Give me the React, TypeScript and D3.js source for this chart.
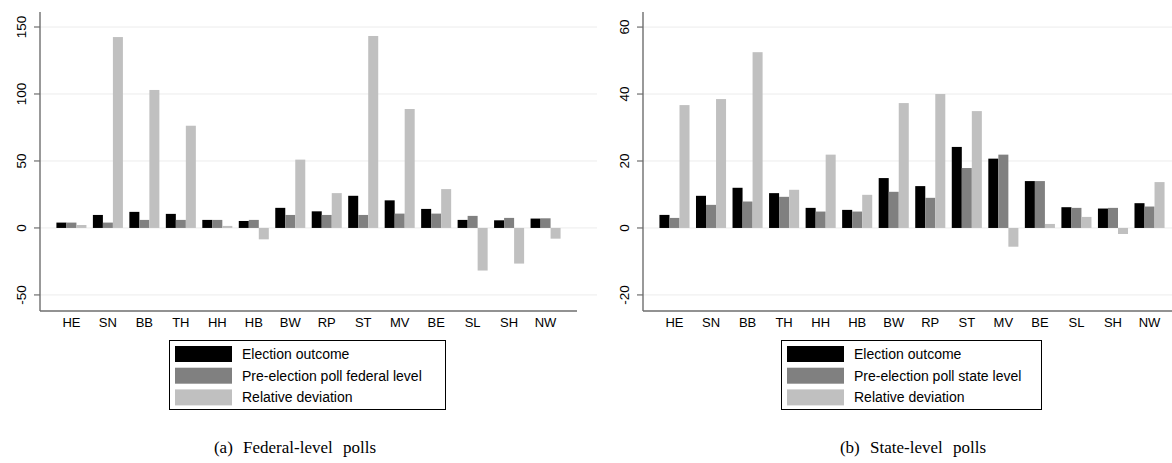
import React from "react";
import * as d3 from "d3";

const categories = ["HE", "SN", "BB", "TH", "HH", "HB", "BW", "RP", "ST", "MV", "BE", "SL", "SH", "NW"];

// Panel (a): federal-level polls
const fedOutcome = [4.0, 9.7, 12.0, 10.5, 6.0, 5.2, 15.0, 12.4, 24.0, 20.6, 14.2, 6.0, 5.7, 7.0];
const fedPoll = [4.0, 4.0, 6.0, 6.0, 6.0, 6.0, 9.7, 9.7, 9.7, 10.7, 10.7, 9.0, 7.5, 7.2];
const fedDeviation = [2.2, 142.5, 103.0, 76.3, 1.5, -8.5, 51.0, 26.0, 143.3, 88.8, 29.0, -31.8, -26.6, -8.0];
const fedTicks = [-50, 0, 50, 100, 150];

// Panel (b): state-level polls
const stateOutcome = [3.9, 9.6, 12.0, 10.4, 6.0, 5.4, 14.9, 12.5, 24.2, 20.7, 14.0, 6.2, 5.8, 7.4];
const statePoll = [3.0, 6.9, 7.9, 9.3, 4.9, 4.9, 10.8, 9.0, 17.9, 21.9, 14.0, 6.0, 6.0, 6.4];
const stateDeviation = [36.7, 38.5, 52.5, 11.4, 21.9, 9.9, 37.3, 40.0, 34.9, -5.6, 1.2, 3.3, -1.8, 13.7];
const stateTicks = [-20, 0, 20, 40, 60];

const seriesColors = ["#000000", "#808080", "#c0c0c0"];
const fedLegend = ["Election outcome", "Pre-election poll federal level", "Relative deviation"];
const stateLegend = ["Election outcome", "Pre-election poll state level", "Relative deviation"];

type PanelProps = {
  x0: number;
  x1: number;
  domain: [number, number];
  ticks: number[];
  series: number[][];
  legend: string[];
  legendX: number;
  legendW: number;
  caption: string;
  captionX: number;
};

const TOP = 12;
const BOTTOM = 311;

function Panel(p: PanelProps) {
  const y = d3.scaleLinear().domain(p.domain).range([BOTTOM, TOP]);
  const x = d3
    .scaleBand<string>()
    .domain(categories)
    .range([p.x0, p.x1])
    .paddingInner(0.177)
    .paddingOuter(0.45);
  const sub = d3
    .scaleBand<number>()
    .domain([0, 1, 2])
    .range([0, x.bandwidth()]);
  const font = "'Liberation Sans', Arial, sans-serif";
  return (
    <g>
      {p.ticks.map((t) => (
        <line key={"g" + t} x1={p.x0} x2={p.x1 + 20} y1={y(t)} y2={y(t)} stroke="#ececec" strokeWidth={1} />
      ))}
      {p.series.map((vals, si) =>
        vals.map((v, i) => {
          const bx = (x(categories[i]) as number) + (sub(si) as number);
          const y0 = y(0);
          const yv = y(v);
          return (
            <rect
              key={si + "-" + i}
              x={bx}
              y={Math.min(y0, yv)}
              width={sub.bandwidth()}
              height={Math.abs(yv - y0)}
              fill={seriesColors[si]}
            />
          );
        })
      )}
      <line x1={p.x0} x2={p.x0} y1={TOP} y2={BOTTOM} stroke="#6e6e6e" strokeWidth={1.4} />
      <line x1={p.x0} x2={p.x1} y1={BOTTOM} y2={BOTTOM} stroke="#6e6e6e" strokeWidth={1.4} />
      {p.ticks.map((t) => (
        <g key={"t" + t}>
          <line x1={p.x0 - 6} x2={p.x0} y1={y(t)} y2={y(t)} stroke="#6e6e6e" strokeWidth={1.2} />
          <text
            transform={`translate(${p.x0 - 14},${y(t)}) rotate(-90)`}
            textAnchor="middle"
            fontFamily={font}
            fontSize={13.5}
            fill="#000"
          >
            {t}
          </text>
        </g>
      ))}
      {categories.map((c) => (
        <text
          key={"c" + c}
          x={(x(c) as number) + x.bandwidth() / 2}
          y={327}
          textAnchor="middle"
          fontFamily={font}
          fontSize={13}
          fill="#000"
        >
          {c}
        </text>
      ))}
      <rect x={p.legendX + 0.5} y={340.5} width={p.legendW} height={69} fill="#fff" stroke="#000" strokeWidth={1} />
      {p.legend.map((l, i) => (
        <g key={"l" + i}>
          <rect x={p.legendX + 6} y={346 + i * 21.7} width={57} height={16} fill={seriesColors[i]} />
          <text x={p.legendX + 73} y={359 + i * 21.7} fontFamily={font} fontSize={14} fill="#000">
            {l}
          </text>
        </g>
      ))}
      <text
        x={p.captionX}
        y={453}
        textAnchor="middle"
        fontFamily="'Liberation Serif', 'DejaVu Serif', serif"
        fontSize={17}
        wordSpacing={6}
        fill="#000"
      >
        {p.caption}
      </text>
    </g>
  );
}

export default function App() {
  return (
    <div style={{ position: "absolute", left: 0, top: 0 }}>
      <svg width={1172} height={463} style={{ display: "block", background: "#fff" }}>
        <Panel
          x0={40}
          x1={577}
          domain={[-62.0, 161.2]}
          ticks={fedTicks}
          series={[fedOutcome, fedPoll, fedDeviation]}
          legend={fedLegend}
          legendX={169}
          legendW={276}
          caption="(a) Federal-level polls"
          captionX={295}
        />
        <Panel
          x0={643}
          x1={1181}
          domain={[-24.8, 64.5]}
          ticks={stateTicks}
          series={[stateOutcome, statePoll, stateDeviation]}
          legend={stateLegend}
          legendX={781}
          legendW={260}
          caption="(b) State-level polls"
          captionX={913}
        />
      </svg>
    </div>
  );
}
